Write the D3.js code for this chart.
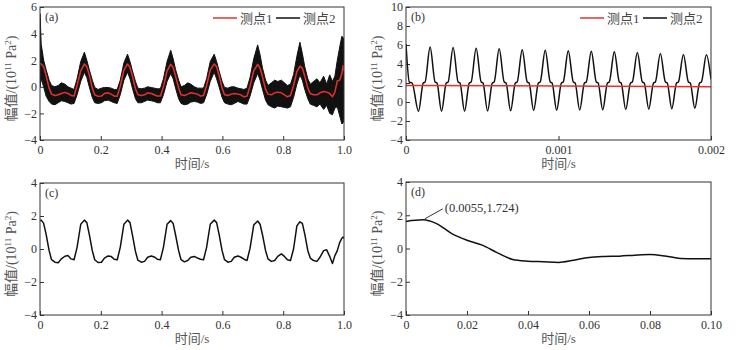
<!DOCTYPE html>
<html>
<head>
<meta charset="utf-8">
<script src="https://cdn.jsdelivr.net/npm/d3@7"></script>
<style>
  body { margin: 0; background: #fff; }
  text { font-family: "Liberation Serif", "Times New Roman", "Noto Sans CJK SC", serif; fill: #333; }
</style>
</head>
<body>
<div id="chart"></div>
<script>
const width = 736
const height = 350

// (a) / (c) shared time grid, s
const t1 = [0, 0.004,
  0.012, 0.020, 0.030, 0.038, 0.049, 0.060, 0.070, 0.082, 0.092, 0.102, 0.112, 0.122, 0.134,
  0.146, 0.154, 0.162, 0.172, 0.180, 0.191, 0.202, 0.212, 0.224, 0.234, 0.244, 0.254, 0.264, 0.276,
  0.288, 0.296, 0.304, 0.314, 0.322, 0.333, 0.344, 0.354, 0.366, 0.376, 0.386, 0.396, 0.406, 0.418,
  0.430, 0.438, 0.446, 0.456, 0.464, 0.475, 0.486, 0.496, 0.508, 0.518, 0.528, 0.538, 0.548, 0.560,
  0.573, 0.581, 0.589, 0.599, 0.607, 0.618, 0.629, 0.639, 0.651, 0.661, 0.671, 0.681, 0.691, 0.703,
  0.716, 0.724, 0.732, 0.742, 0.750, 0.761, 0.772, 0.782, 0.794, 0.804, 0.814, 0.824, 0.834, 0.845,
  0.855, 0.863, 0.871, 0.881, 0.889, 0.900, 0.911, 0.921, 0.933, 0.943, 0.953, 0.962, 0.970, 0.978, 0.986, 0.993, 0.997, 1.0]

// (a) 测点1
const redA = [1.75, 1.72,
  1.5, 0.85, -0.1, -0.55, -0.65, -0.6, -0.5, -0.42, -0.5, -0.65, -0.7, 0.1, 1.2,
  1.72, 1.5, 0.9, -0.1, -0.6, -0.72, -0.7, -0.5, -0.45, -0.55, -0.7, -0.72, 0.05, 1.25,
  1.72, 1.45, 0.8, -0.15, -0.6, -0.65, -0.6, -0.45, -0.5, -0.6, -0.7, -0.7, 0.0, 1.2,
  1.7, 1.45, 0.8, -0.1, -0.6, -0.65, -0.55, -0.45, -0.5, -0.55, -0.7, -0.65, 0.1, 1.25,
  1.72, 1.5, 0.85, -0.1, -0.6, -0.65, -0.55, -0.5, -0.55, -0.6, -0.75, -0.7, 0.05, 1.2,
  1.68, 1.4, 0.75, -0.2, -0.55, -0.6, -0.45, -0.4, -0.45, -0.6, -0.75, -0.65, 0.1, 1.15,
  1.55, 1.4, 0.8, -0.1, -0.5, -0.6, -0.6, -0.45, -0.35, -0.4, -0.5, -0.75, -0.4, 0.45, 0.5, 1.0, 1.6, 1.2]

// (a) 测点2 envelope (upper / lower)
const upA = [5.5, 3.2,
  2.0, 1.3, 0.5, 0.1, 0.0, 0.1, 0.3, 0.2, 0.0, -0.1, -0.2, 0.6, 1.9,
  2.6, 2.0, 1.3, 0.5, -0.05, -0.2, -0.1, -0.05, -0.05, -0.1, -0.2, -0.2, 0.5, 1.8,
  2.45, 1.9, 1.2, 0.4, -0.1, -0.15, -0.1, 0.0, -0.05, -0.1, -0.15, -0.15, 0.6, 1.9,
  2.75, 2.1, 1.3, 0.5, 0.0, 0.1, 0.3, 0.2, 0.0, -0.1, -0.1, -0.1, 0.6, 1.9,
  2.45, 1.9, 1.2, 0.4, -0.05, -0.1, 0.0, 0.0, -0.1, -0.15, -0.2, -0.1, 0.7, 2.1,
  3.15, 2.4, 1.4, 0.5, 0.1, 0.3, 0.5, 0.4, 0.5, 0.3, 0.1, 0.2, 0.9, 2.3,
  3.35, 2.5, 1.5, 0.6, 0.2, 0.4, 0.6, 0.3, 0.8, 0.2, 0.9, 0.4, 0.8, 2.0, 3.0, 3.8, 3.7, 3.4]
const loA = [0.0, 0.6,
  0.0, -0.7, -1.1, -1.3, -1.35, -1.2, -1.05, -1.1, -1.2, -1.3, -1.25, -0.6, 0.4,
  1.1, 0.7, 0.0, -0.8, -1.2, -1.25, -1.2, -1.05, -1.0, -1.1, -1.2, -1.25, -0.6, 0.5,
  1.1, 0.6, -0.1, -0.9, -1.2, -1.2, -1.1, -1.0, -1.05, -1.1, -1.2, -1.2, -0.6, 0.4,
  1.0, 0.6, -0.1, -0.9, -1.25, -1.35, -1.3, -1.15, -1.1, -1.15, -1.25, -1.2, -0.6, 0.4,
  1.1, 0.6, 0.0, -0.8, -1.2, -1.3, -1.35, -1.25, -1.1, -1.2, -1.3, -1.3, -0.7, 0.3,
  1.0, 0.5, -0.2, -1.0, -1.35, -1.5, -1.6, -1.45, -1.5, -1.55, -1.6, -1.5, -0.8, 0.2,
  0.9, 0.5, -0.2, -0.9, -1.3, -1.4, -1.5, -1.3, -1.7, -1.4, -2.0, -2.1, -1.6, -1.5, -2.2, -2.8, -2.7, -2.5]

// (c)
const vC = [1.73, 1.75,
  1.55, 0.9, -0.1, -0.65, -0.8, -0.83, -0.6, -0.44, -0.4, -0.6, -0.65, 0.1, 1.5,
  1.75, 1.6, 0.9, -0.1, -0.65, -0.82, -0.8, -0.55, -0.42, -0.45, -0.62, -0.65, 0.1, 1.5,
  1.75, 1.6, 0.85, -0.15, -0.68, -0.8, -0.75, -0.5, -0.42, -0.48, -0.62, -0.65, 0.1, 1.5,
  1.72, 1.55, 0.85, -0.1, -0.65, -0.78, -0.7, -0.5, -0.45, -0.55, -0.62, -0.65, 0.1, 1.5,
  1.75, 1.6, 0.9, -0.1, -0.65, -0.8, -0.75, -0.5, -0.42, -0.5, -0.62, -0.7, 0.05, 1.45,
  1.7, 1.5, 0.85, -0.1, -0.6, -0.75, -0.7, -0.45, -0.3, -0.45, -0.65, -0.7, 0.0, 1.4,
  1.65, 1.55, 0.9, -0.1, -0.55, -0.7, -0.75, -0.5, -0.1, -0.05, -0.45, -0.88, -0.4, -0.1, 0.4, 0.65, 0.72, 0.65]

// (b) time in microseconds
const tB = [0, 22, 40, 82, 113, 125,
  158, 191, 203, 233, 264, 276,
  309, 342, 354, 384, 415, 427,
  460, 493, 505, 535, 566, 578,
  611, 644, 656, 686, 717, 729,
  762, 795, 807, 837, 868, 880,
  913, 946, 958, 988, 1019, 1031,
  1064, 1097, 1109, 1139, 1170, 1182,
  1215, 1248, 1260, 1290, 1321, 1333,
  1366, 1399, 1411, 1441, 1472, 1484,
  1517, 1550, 1562, 1592, 1623, 1635,
  1668, 1701, 1713, 1743, 1774, 1786,
  1819, 1852, 1864, 1894, 1925, 1937,
  1970, 2000]
const vB = [6.1, 2.1, 2.0, -1.0, 2.0, 2.1,
  5.8, 2.1, 2.0, -0.98, 2.0, 2.1,
  5.75, 2.1, 2.0, -0.97, 2.0, 2.1,
  5.65, 2.1, 2.0, -0.95, 2.0, 2.1,
  5.6, 2.1, 2.0, -0.93, 2.0, 2.1,
  5.5, 2.1, 2.0, -0.9, 2.0, 2.1,
  5.45, 2.1, 2.0, -0.88, 2.0, 2.1,
  5.4, 2.1, 2.0, -0.85, 2.0, 2.1,
  5.35, 2.1, 2.0, -0.82, 2.0, 2.1,
  5.3, 2.1, 2.0, -0.8, 2.0, 2.1,
  5.2, 2.1, 2.0, -0.75, 2.0, 2.1,
  5.1, 2.1, 2.0, -0.7, 2.0, 2.1,
  5.0, 2.1, 2.0, -0.65, 2.0, 2.1,
  4.98, 2.4]
const tBred = [0, 2000]
const vBred = [1.75, 1.6]

// (d)
const tD = [0, 0.0055, 0.01, 0.015, 0.02, 0.025, 0.03, 0.035, 0.04, 0.045, 0.05,
  0.055, 0.06, 0.065, 0.07, 0.075, 0.08, 0.085, 0.09, 0.095, 0.1]
const vD = [1.63, 1.724, 1.5, 0.9, 0.5, 0.2, -0.26, -0.66, -0.76, -0.8, -0.84,
  -0.7, -0.54, -0.48, -0.46, -0.4, -0.36, -0.45, -0.6, -0.62, -0.62]
const peakLabel = "(0.0055,1.724)"

const ticksX1 = [0, 0.2, 0.4, 0.6, 0.8, 1.0]
const ticksXB = [0, 0.001, 0.002]
const ticksXD = [0, 0.02, 0.04, 0.06, 0.08, 0.10]
const ticksYA = [-4, -2, 0, 2, 4, 6]
const ticksYB = [-4, -2, 0, 2, 4, 6, 8, 10]
const ticksYC = [-4, -2, 0, 2, 4]
const legendNames = ["测点1", "测点2"]

const RED = "#e8302b"
const BLACK = "#111"

const svg = d3.select("#chart").append("svg")
    .attr("width", width)
    .attr("height", height)

function fmt(p) {
    return d => d === 0 ? "0" : d3.format("." + p + "f")(d)
}

function makePanel(o) {
    const x = d3.scaleLinear().domain(o.xDomain).range([o.left, o.right])
    const y = d3.scaleLinear().domain(o.yDomain).range([o.bottom, o.top])
    const g = svg.append("g")

    const xa = g.append("g")
        .attr("transform", `translate(0,${o.bottom})`)
        .call(d3.axisBottom(x).tickValues(o.xTicks).tickFormat(o.xFmt)
            .tickSizeInner(-4).tickSizeOuter(0).tickPadding(5))
    const ya = g.append("g")
        .attr("transform", `translate(${o.left},0)`)
        .call(d3.axisLeft(y).tickValues(o.yTicks)
            .tickSizeInner(-4).tickSizeOuter(0).tickPadding(3))
    for (const a of [xa, ya]) {
        a.select(".domain").remove()
        a.selectAll("line").attr("stroke", "#333")
        a.selectAll("text").style("font-size", "12px").attr("fill", "#333")
    }

    g.append("rect")
        .attr("x", o.left).attr("y", o.top)
        .attr("width", o.right - o.left).attr("height", o.bottom - o.top)
        .attr("fill", "none").attr("stroke", "#333").attr("stroke-width", 1)

    // clip for data
    const id = "clip-" + o.tag
    svg.append("clipPath").attr("id", id).append("rect")
        .attr("x", o.left).attr("y", o.top)
        .attr("width", o.right - o.left).attr("height", o.bottom - o.top)
    const plot = g.insert("g", "rect").attr("clip-path", `url(#${id})`)

    g.append("text")
        .text(`(${o.tag})`)
        .attr("x", o.left + 5).attr("y", o.top + 14)
        .style("font-size", "12px")

    g.append("text")
        .text("时间/s")
        .attr("x", (o.left + o.right) / 2).attr("y", o.bottom + 28)
        .style("text-anchor", "middle").style("font-size", "13px")
        .style("fill", "#555")

    const yl = g.append("text")
        .attr("transform", `translate(${o.left - 24},${(o.top + o.bottom) / 2 + 5}) rotate(-90)`)
        .style("text-anchor", "middle").style("font-size", "14px")
        .style("fill", "#555")
    yl.append("tspan").text("幅值/(10")
    yl.append("tspan").text("11").attr("dy", -5).style("font-size", "9px")
    yl.append("tspan").text(" Pa").attr("dy", 5)
    yl.append("tspan").text("2").attr("dy", -5).style("font-size", "9px")
    yl.append("tspan").text(")").attr("dy", 5)

    return { x, y, g, plot, o }
}

function legend(p) {
    const right = p.o.right
    const yy = p.o.top + 11
    const items = [
        { name: legendNames[0], color: RED, x: right - 131 },
        { name: legendNames[1], color: BLACK, x: right - 68 }
    ]
    items.forEach(d => {
        p.g.append("line")
            .attr("x1", d.x).attr("x2", d.x + 24)
            .attr("y1", yy).attr("y2", yy)
            .attr("stroke", d.color).attr("stroke-width", 1.5)
        p.g.append("text")
            .text(d.name)
            .attr("x", d.x + 27).attr("y", yy + 4.5)
            .style("font-size", "13px")
            .style("fill", "#444")
    })
}

// (a)
const pa = makePanel({ tag: "a", left: 40, right: 344, top: 7, bottom: 140,
    xDomain: [0, 1], yDomain: [-4, 6], xTicks: ticksX1, yTicks: ticksYA, xFmt: fmt(1) })
const idx = d3.range(t1.length)
pa.plot.append("path")
    .datum(idx)
    .attr("fill", BLACK)
    .attr("stroke", BLACK)
    .attr("stroke-width", 1)
    .attr("d", d3.area()
        .x(i => pa.x(t1[i]))
        .y0(i => pa.y(loA[i]))
        .y1(i => pa.y(upA[i])))
pa.plot.append("path")
    .datum(idx)
    .attr("fill", "none")
    .attr("stroke", RED)
    .attr("stroke-width", 1.5)
    .attr("stroke-linejoin", "round")
    .attr("d", d3.line().x(i => pa.x(t1[i])).y(i => pa.y(redA[i])))
legend(pa)

// (b)
const pb = makePanel({ tag: "b", left: 406, right: 711, top: 7, bottom: 140,
    xDomain: [0, 0.002], yDomain: [-4, 10], xTicks: ticksXB, yTicks: ticksYB, xFmt: fmt(3) })
pb.plot.append("path")
    .datum(d3.range(tB.length))
    .attr("fill", "none")
    .attr("stroke", BLACK)
    .attr("stroke-width", 1.5)
    .attr("d", d3.line().curve(d3.curveMonotoneX)
        .x(i => pb.x(tB[i] * 1e-6)).y(i => pb.y(vB[i])))
pb.plot.append("path")
    .datum(d3.range(tBred.length))
    .attr("fill", "none")
    .attr("stroke", RED)
    .attr("stroke-width", 1.5)
    .attr("d", d3.line().x(i => pb.x(tBred[i] * 1e-6)).y(i => pb.y(vBred[i])))
legend(pb)

// (c)
const pc = makePanel({ tag: "c", left: 40, right: 344, top: 183, bottom: 315,
    xDomain: [0, 1], yDomain: [-4, 4], xTicks: ticksX1, yTicks: ticksYC, xFmt: fmt(1) })
pc.plot.append("path")
    .datum(idx)
    .attr("fill", "none")
    .attr("stroke", BLACK)
    .attr("stroke-width", 1.5)
    .attr("stroke-linejoin", "round")
    .attr("d", d3.line()
        .x(i => pc.x(t1[i])).y(i => pc.y(vC[i])))

// (d)
const pd = makePanel({ tag: "d", left: 406, right: 711, top: 182, bottom: 315,
    xDomain: [0, 0.1], yDomain: [-4, 4], xTicks: ticksXD, yTicks: ticksYC, xFmt: fmt(2) })
pd.plot.append("path")
    .datum(d3.range(tD.length))
    .attr("fill", "none")
    .attr("stroke", BLACK)
    .attr("stroke-width", 1.5)
    .attr("d", d3.line().curve(d3.curveMonotoneX)
        .x(i => pd.x(tD[i])).y(i => pd.y(vD[i])))
const px = pd.x(tD[1]), py = pd.y(vD[1])
pd.g.append("line")
    .attr("x1", px + 2).attr("y1", py - 1)
    .attr("x2", px + 20).attr("y2", py - 11)
    .attr("stroke", "#333").attr("stroke-width", 1)
pd.g.append("text")
    .text(peakLabel)
    .attr("x", px + 22).attr("y", py - 8)
    .style("font-size", "12.5px")
</script>
</body>
</html>
